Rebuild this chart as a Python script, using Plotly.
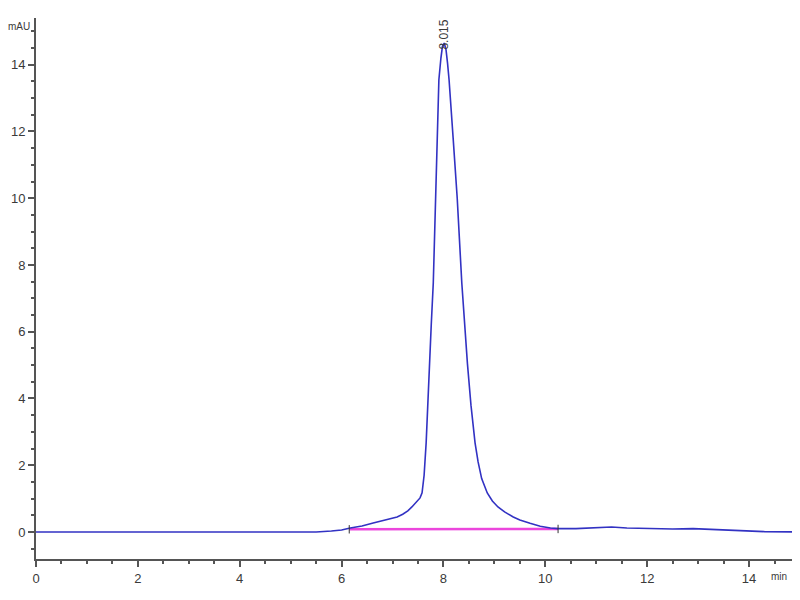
import plotly.graph_objects as go

# Chromatogram signal (time in min, absorbance in mAU)
time_min = [0, 1, 2, 3, 4, 5, 5.5, 5.8, 6.0, 6.17, 6.4, 6.62, 6.85, 7.09, 7.2, 7.3, 7.38,
            7.48, 7.54, 7.58, 7.62, 7.66, 7.69, 7.72, 7.76, 7.80, 7.84, 7.87, 7.91, 7.95, 7.98,
            8.015, 8.05, 8.08, 8.11, 8.19, 8.27, 8.36, 8.41, 8.47, 8.54, 8.62, 8.68, 8.75, 8.86,
            8.96, 9.07, 9.2, 9.37, 9.5, 9.70, 9.9, 10.1, 10.25, 10.6, 11.0, 11.3, 11.6,
            12.0, 12.5, 12.9, 13.3, 13.8, 14.3, 15.0]
signal_mau = [0.0, 0.0, -0.01, -0.02, -0.02, -0.01, 0.0, 0.03, 0.06, 0.12, 0.18, 0.27, 0.35, 0.45, 0.53, 0.63, 0.75,
              0.9, 1.02, 1.17, 1.7, 2.67, 3.8, 5.16, 6.2, 7.46, 10.0, 11.8, 13.55, 14.2, 14.55,
              14.65, 14.45, 14.05, 13.55, 11.8, 10.0, 7.46, 6.2, 5.05, 3.8, 2.67, 2.1, 1.6, 1.17,
              0.93, 0.75, 0.6, 0.45, 0.36, 0.26, 0.17, 0.12, 0.1, 0.1, 0.12, 0.15, 0.12,
              0.1, 0.09, 0.1, 0.07, 0.03, 0.01, 0.0]

# Integration baseline
baseline_time = [6.15, 10.25]
baseline_mau = [0.08, 0.09]

# Peak label
peak_time = 8.015
peak_label = "8.015"
peak_label_y = 14.4

x_tick_vals = [0, 2, 4, 6, 8, 10, 12, 14]
y_tick_vals = [0, 2, 4, 6, 8, 10, 12, 14]

FONT = "Liberation Sans Narrow, Liberation Sans, Arial, sans-serif"
FONT2 = "Liberation Sans, Arial, sans-serif"
TXT = "#3a3a3a"

fig = go.Figure()
fig.add_trace(go.Scatter(
    x=baseline_time, y=baseline_mau, mode="lines",
    line=dict(color="rgb(235,70,220)", width=2.5), hoverinfo="skip", showlegend=False))
fig.add_trace(go.Scatter(
    x=time_min, y=signal_mau, mode="lines",
    line=dict(color="rgb(50,50,195)", width=1.6),
    showlegend=False))
fig.add_trace(go.Scatter(
    x=baseline_time, y=baseline_mau, mode="markers",
    marker=dict(symbol="line-ns", size=6, line=dict(color="#333", width=1)),
    showlegend=False, hoverinfo="skip"))

axis_common = dict(
    showline=True, linecolor="#555", linewidth=2, mirror=False,
    ticks="outside", ticklen=6, tickwidth=2, tickcolor="#555",
    showgrid=False, zeroline=False, automargin=False,
    tickfont=dict(family=FONT, size=13, color=TXT),
)

fig.update_xaxes(range=[0, 15], tickvals=x_tick_vals,
                 minor=dict(ticks="outside", ticklen=3, tickwidth=2, tickcolor="#555", dtick=0.5),
                 **axis_common)
fig.update_yaxes(range=[-0.81, 15.4], tickvals=y_tick_vals,
                 minor=dict(ticks="outside", ticklen=3, tickwidth=2, tickcolor="#555", dtick=0.5),
                 **axis_common)

fig.add_annotation(x=peak_time, y=peak_label_y, text=peak_label, textangle=-90,
                   showarrow=False, yanchor="bottom", xanchor="center",
                   font=dict(family=FONT2, size=12, color=TXT))
fig.add_annotation(xref="paper", yref="paper", x=-0.039, y=0.985, text="mAU",
                   showarrow=False, xanchor="left", yanchor="middle",
                   font=dict(family=FONT, size=10, color=TXT))
fig.add_annotation(xref="paper", yref="paper", x=0.985, y=-0.032, text="min",
                   showarrow=False, xanchor="right", yanchor="middle",
                   font=dict(family=FONT2, size=10, color=TXT))

# page adds an 8px body margin, so the figure is sized to land the axes where the reference has them
fig.update_layout(
    width=792, height=584,
    margin=dict(l=28, r=0, t=10, b=33, autoexpand=False),
    plot_bgcolor="white", paper_bgcolor="white",
)

fig.write_html("out.html")
